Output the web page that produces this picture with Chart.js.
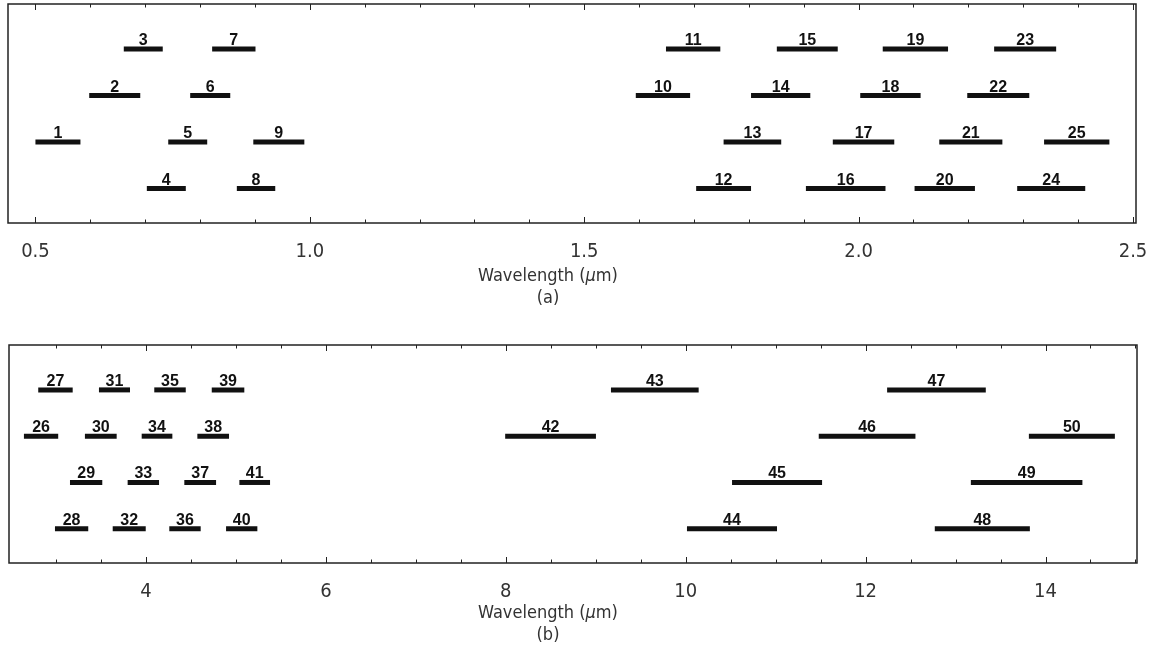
<!DOCTYPE html>
<html>
<head>
<meta charset="utf-8">
<script src="https://cdn.jsdelivr.net/npm/chart.js@4/dist/chart.umd.min.js"></script>
<style>
  html, body { margin: 0; padding: 0; background: #fff; }
  body { position: relative; width: 1166px; height: 652px; overflow: hidden; }
  canvas { position: absolute; left: 0; }
  .axis-title {
    position: absolute; left: 448px; width: 200px; text-align: center;
    font-family: "Liberation Sans Narrow", "DejaVu Sans Condensed", sans-serif;
    font-size: 18px; color: #333; line-height: 22px;
  }
</style>
</head>
<body>
<canvas id="chartA" width="1166" height="265" style="top:0"></canvas>
<canvas id="chartB" width="1166" height="275" style="top:330px"></canvas>
<div class="axis-title" style="top:264px">Wavelength (<i>µ</i>m)<br>(a)</div>
<div class="axis-title" style="top:601px">Wavelength (<i>µ</i>m)<br>(b)</div>
<script>
// ─── Data: spectral bands (µm) ──────────────────────────────────────────

const BANDS_A = [1, 2, 3, 4, 5, 6, 7, 8, 9, 10, 11, 12, 13, 14, 15, 16, 17, 18, 19, 20, 21, 22, 23, 24, 25];
const START_A = [0.500, 0.598, 0.661, 0.703, 0.742, 0.782, 0.822, 0.867, 0.897,
                 1.594, 1.649, 1.704, 1.754, 1.804, 1.851, 1.904, 1.953, 2.003,
                 2.044, 2.102, 2.147, 2.198, 2.247, 2.289, 2.338];
const END_A   = [0.582, 0.691, 0.732, 0.774, 0.813, 0.855, 0.901, 0.937, 0.990,
                 1.693, 1.748, 1.804, 1.859, 1.912, 1.962, 2.049, 2.065, 2.113,
                 2.163, 2.212, 2.262, 2.311, 2.360, 2.413, 2.457];
const ROW_A   = [2, 3, 4, 1, 2, 3, 4, 1, 2, 3, 4, 1, 2, 3, 4, 1, 2, 3, 4, 1, 2, 3, 4, 1, 2];

const BANDS_B = [26, 27, 28, 29, 30, 31, 32, 33, 34, 35, 36, 37, 38, 39, 40, 41, 42, 43, 44, 45, 46, 47, 48, 49, 50];
const START_B = [2.643, 2.802, 2.988, 3.155, 3.321, 3.477, 3.630, 3.796, 3.952,
                 4.092, 4.259, 4.426, 4.571, 4.731, 4.890, 5.038, 7.993, 9.169,
                 10.014, 10.515, 11.479, 12.239, 12.769, 13.170, 13.815];
const END_B   = [3.024, 3.185, 3.358, 3.514, 3.674, 3.822, 3.997, 4.145, 4.293,
                 4.442, 4.608, 4.779, 4.923, 5.093, 5.238, 5.379, 9.002, 10.144,
                 11.015, 11.516, 12.554, 13.336, 13.826, 14.410, 14.771];
const ROW_B   = [3, 4, 1, 2, 3, 4, 1, 2, 3, 4, 1, 2, 3, 4, 1, 2, 3, 4, 1, 2, 3, 4, 1, 2, 3];

// tick positions (µm); majors carry labels
const MAJOR_A = [0.5, 1.0, 1.5, 2.0, 2.5];
const MINOR_A = [0.6, 0.7, 0.8, 0.9, 1.1, 1.2, 1.3, 1.4, 1.6, 1.7, 1.8, 1.9, 2.1, 2.2, 2.3, 2.4];
const MAJOR_B = [4, 6, 8, 10, 12, 14];
const MINOR_B = [3, 3.5, 4.5, 5, 5.5, 6.5, 7, 7.5, 8.5, 9, 9.5, 10.5, 11, 11.5,
                 12.5, 13, 13.5, 14.5, 15];

const INK = '#111';
const AXIS_FONT = '"Liberation Sans Narrow", "DejaVu Sans Condensed", sans-serif';
const LABEL_FONT = 'bold 16px "Liberation Sans", Arial, sans-serif';

// ─── Plugin: boxed frame, inward ticks, band numbers ────────────────────

const framePlugin = {
  id: 'frame',
  afterDatasetsDraw(chart, args, opts) {
    const { ctx, chartArea: a, scales } = chart;
    const xs = scales.x, ys = scales.y;
    ctx.save();
    ctx.strokeStyle = '#222';
    ctx.lineWidth = 1.5;
    ctx.strokeRect(a.left, a.top, a.right - a.left, a.bottom - a.top);

    ctx.lineWidth = 1;
    for (const t of xs.ticks) {
      const px = Math.round(xs.getPixelForValue(t.value)) + 0.5;
      const len = opts.majors.includes(t.value) ? 6 : 3.5;
      ctx.beginPath();
      ctx.moveTo(px, a.bottom); ctx.lineTo(px, a.bottom - len);
      ctx.moveTo(px, a.top);    ctx.lineTo(px, a.top + len);
      ctx.stroke();
    }

    ctx.fillStyle = INK;
    ctx.font = LABEL_FONT;
    ctx.textAlign = 'center';
    ctx.textBaseline = 'alphabetic';
    opts.bands.forEach((b, i) => {
      const cx = xs.getPixelForValue((opts.start[i] + opts.end[i]) / 2);
      const cy = ys.getPixelForValue(opts.row[i]);
      ctx.fillText(String(b), cx, cy - 4);
    });
    ctx.restore();
  },
};

// ─── Chart builder ──────────────────────────────────────────────────────

function renderBandChart(canvasId, cfg) {
  const ticks = [...cfg.majors, ...cfg.minors].sort((p, q) => p - q);
  const datasets = cfg.bands.map((b, i) => ({
    label: 'Band ' + b,
    data: [{ x: cfg.start[i], y: cfg.row[i] }, { x: cfg.end[i], y: cfg.row[i] }],
    borderColor: INK,
    borderWidth: 5,
    borderCapStyle: 'butt',
    pointRadius: 0,
    fill: false,
    tension: 0,
  }));

  new Chart(document.getElementById(canvasId), {
    type: 'line',
    data: { datasets },
    options: {
      responsive: false,
      animation: false,
      layout: { padding: cfg.padding },
      plugins: {
        legend: { display: false },
        tooltip: { enabled: false },
        frame: { majors: cfg.majors, bands: cfg.bands, start: cfg.start, end: cfg.end, row: cfg.row },
      },
      scales: {
        x: {
          type: 'linear',
          min: cfg.xmin,
          max: cfg.xmax,
          afterBuildTicks: s => { s.ticks = ticks.map(v => ({ value: v })); },
          afterFit: s => { s.height = 42; },
          ticks: {
            autoSkip: false,
            maxRotation: 0,
            padding: 9,
            color: '#333',
            font: { family: AXIS_FONT, size: 20 },
            callback: v => cfg.majors.includes(v) ? cfg.fmt(v) : '',
          },
          grid: { display: false },
          border: { display: false },
        },
        y: { type: 'linear', min: 0.26, max: 4.97, display: false },
      },
    },
    plugins: [framePlugin],
  });
}

renderBandChart('chartA', {
  bands: BANDS_A, start: START_A, end: END_A, row: ROW_A,
  majors: MAJOR_A, minors: MINOR_A,
  xmin: 0.45, xmax: 2.5055,
  fmt: v => v.toFixed(1),
  padding: { left: 8, right: 30, top: 4, bottom: 0 },
});

renderBandChart('chartB', {
  bands: BANDS_B, start: START_B, end: END_B, row: ROW_B,
  majors: MAJOR_B, minors: MINOR_B,
  xmin: 2.477, xmax: 15.017,
  fmt: v => String(v),
  padding: { left: 9, right: 29, top: 15, bottom: 0 },
});
</script>
</body>
</html>
